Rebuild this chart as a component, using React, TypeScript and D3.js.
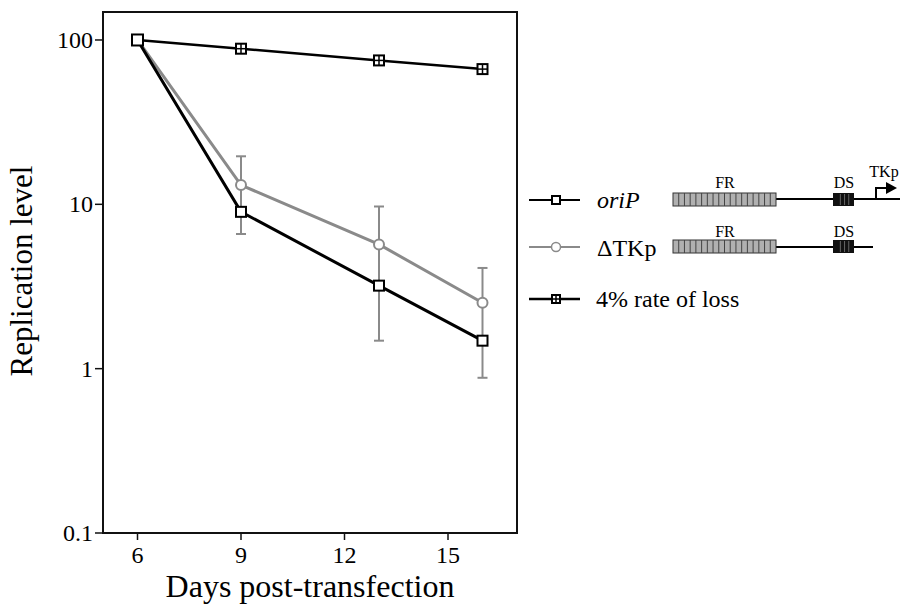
import React from "react";
import * as d3 from "d3";

const days = [6, 9, 13, 16];
const oriP = [100, 9.0, 3.2, 1.48];
const dTKp = [100, 13.1, 5.7, 2.52];
const dTKpHigh = [null, 19.6, 9.7, 4.1];
const dTKpLow = [null, 6.6, 1.48, 0.88];
const loss4 = [100, 88.5, 75.1, 66.5];
const xTicks = [6, 9, 12, 15];
const yTicks = [0.1, 1, 10, 100];
const yTickLabels = ["0.1", "1", "10", "100"];
const legendLabels = ["oriP", "ΔTKp", "4% rate of loss"];

const FONT = "Liberation Serif";

export default function App() {
  const W = 900, H = 608;
  const L = 103, R = 517, T = 12, B = 533;
  const x = d3.scaleLinear().domain([5, 17]).range([L, R]);
  const y = d3.scaleLog().domain([0.1, 148]).range([B, T]);
  const line = d3.line<[number, number]>().x(d => x(d[0])).y(d => y(d[1]));
  const ptsO = days.map((d, i) => [d, oriP[i]] as [number, number]);
  const ptsT = days.map((d, i) => [d, dTKp[i]] as [number, number]);
  const ptsL = days.map((d, i) => [d, loss4[i]] as [number, number]);
  const grey = "#8a8a8a";
  const tf = { fontFamily: FONT } as React.CSSProperties;

  const square = (cx: number, cy: number, key: string, s = 9) => (
    <rect key={key} x={cx - s / 2} y={cy - s / 2} width={s} height={s} fill="#fff" stroke="#000" strokeWidth={2} />
  );
  const plusSquare = (cx: number, cy: number, key: string, s = 10) => (
    <g key={key}>
      <rect x={cx - s / 2} y={cy - s / 2} width={s} height={s} fill="#fff" stroke="#000" strokeWidth={2} />
      <line x1={cx} x2={cx} y1={cy - s / 2} y2={cy + s / 2} stroke="#000" strokeWidth={1.5} />
      <line x1={cx - s / 2} x2={cx + s / 2} y1={cy} y2={cy} stroke="#000" strokeWidth={1.5} />
    </g>
  );
  const circle = (cx: number, cy: number, key: string) => (
    <circle key={key} cx={cx} cy={cy} r={5} fill="#fff" stroke={grey} strokeWidth={2} />
  );

  const frBox = (x0: number, y0: number, key: string) => {
    const w = 103, h = 13, n = 18;
    const stripes = d3.range(1, n).map(i => x0 + (w * i) / n);
    return (
      <g key={key}>
        <rect x={x0} y={y0} width={w} height={h} fill="#b0b0b0" stroke="#333" strokeWidth={1} />
        {stripes.map((sx, i) => (
          <line key={i} x1={sx} x2={sx} y1={y0} y2={y0 + h} stroke="#444" strokeWidth={1} />
        ))}
      </g>
    );
  };
  const dsBox = (x0: number, y0: number, key: string) => {
    const w = 21, h = 13;
    return (
      <g key={key}>
        <rect x={x0} y={y0} width={w} height={h} fill="#111" />
        {[0.35, 0.55, 0.75].map((f, i) => (
          <line key={i} x1={x0 + w * f} x2={x0 + w * f} y1={y0 + 1} y2={y0 + h - 1} stroke="#666" strokeWidth={1} />
        ))}
      </g>
    );
  };

  const legY = [200, 247, 299];

  return (
    <svg width={W} height={H} style={{ position: "absolute", left: 0, top: 0, background: "#fff" }}>
      <rect x={0} y={0} width={W} height={H} fill="#fff" />
      {/* frame */}
      <rect x={L} y={T} width={R - L} height={B - T} fill="none" stroke="#111" strokeWidth={2} />
      {/* y ticks */}
      {yTicks.map((t, i) => (
        <g key={"yt" + i}>
          <line x1={L - 8} x2={L} y1={y(t)} y2={y(t)} stroke="#111" strokeWidth={1.5} />
          <text style={tf} x={L - 10} y={y(t) + 8} textAnchor="end" fontSize={24}>{yTickLabels[i]}</text>
        </g>
      ))}
      {/* x ticks */}
      {xTicks.map((t, i) => (
        <g key={"xt" + i}>
          <line x1={x(t)} x2={x(t)} y1={B} y2={B + 7} stroke="#111" strokeWidth={1.5} />
          <text style={tf} x={x(t)} y={563} textAnchor="middle" fontSize={24}>{t}</text>
        </g>
      ))}
      <text style={tf} x={310} y={597} textAnchor="middle" fontSize={32}>Days post-transfection</text>
      <text style={tf} transform={`translate(32,271) rotate(-90)`} textAnchor="middle" fontSize={31}>Replication level</text>

      {/* error bars */}
      {days.map((d, i) => dTKpHigh[i] == null ? null : (
        <g key={"eb" + i} stroke={grey} strokeWidth={2}>
          <line x1={x(d)} x2={x(d)} y1={y(dTKpHigh[i] as number)} y2={y(dTKpLow[i] as number)} />
          <line x1={x(d) - 5} x2={x(d) + 5} y1={y(dTKpHigh[i] as number)} y2={y(dTKpHigh[i] as number)} />
          <line x1={x(d) - 5} x2={x(d) + 5} y1={y(dTKpLow[i] as number)} y2={y(dTKpLow[i] as number)} />
        </g>
      ))}
      {/* lines */}
      <path d={line(ptsT) || ""} fill="none" stroke={grey} strokeWidth={3} />
      <path d={line(ptsL) || ""} fill="none" stroke="#000" strokeWidth={2.5} />
      <path d={line(ptsO) || ""} fill="none" stroke="#000" strokeWidth={3} />
      {/* markers */}
      {ptsT.map((p, i) => i === 0 ? null : circle(x(p[0]), y(p[1]), "c" + i))}
      {ptsL.map((p, i) => i === 0 ? null : plusSquare(x(p[0]), y(p[1]), "p" + i))}
      {ptsO.map((p, i) => square(x(p[0]), y(p[1]), "s" + i, i === 0 ? 11 : 10))}

      {/* legend */}
      <line x1={529} x2={580} y1={legY[0]} y2={legY[0]} stroke="#000" strokeWidth={2} />
      {square(556, legY[0], "ls", 8)}
      <text style={tf} x={597} y={legY[0] + 8} fontSize={24} fontStyle="italic">{legendLabels[0]}</text>
      <line x1={529} x2={580} y1={legY[1]} y2={legY[1]} stroke={grey} strokeWidth={2} />
      <circle cx={556} cy={legY[1]} r={4.5} fill="#fff" stroke={grey} strokeWidth={1.5} />
      <text style={tf} x={597} y={legY[1] + 9} fontSize={24}>{legendLabels[1]}</text>
      <line x1={529} x2={580} y1={legY[2]} y2={legY[2]} stroke="#000" strokeWidth={2.5} />
      {plusSquare(556, legY[2], "lp", 8)}
      <text style={tf} x={596} y={legY[2] + 8} fontSize={24}>{legendLabels[2]}</text>

      {/* diagram row 1 */}
      <line x1={776} x2={900} y1={199} y2={199} stroke="#000" strokeWidth={2} />
      {frBox(673, 193, "fr1")}
      {dsBox(833, 193, "ds1")}
      <text style={tf} x={725} y={188} textAnchor="middle" fontSize={16}>FR</text>
      <text style={tf} x={844} y={188} textAnchor="middle" fontSize={16}>DS</text>
      <path d="M876,199 V188 H886" fill="none" stroke="#000" strokeWidth={2} />
      <path d="M886,182 L897,188 L886,194 Z" fill="#000" />
      <text style={tf} x={884} y={177} textAnchor="middle" fontSize={16}>TKp</text>

      {/* diagram row 2 */}
      <line x1={776} x2={873} y1={247} y2={247} stroke="#000" strokeWidth={2} />
      {frBox(673, 240, "fr2")}
      {dsBox(833, 240, "ds2")}
      <text style={tf} x={725} y={237} textAnchor="middle" fontSize={16}>FR</text>
      <text style={tf} x={844} y={237} textAnchor="middle" fontSize={16}>DS</text>
    </svg>
  );
}
